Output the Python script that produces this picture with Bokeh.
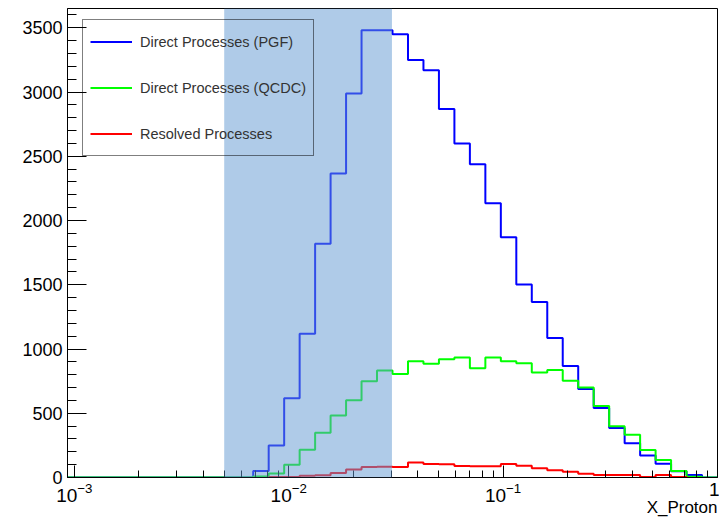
import numpy as np
from bokeh.plotting import figure
from bokeh.models import Range1d, SingleIntervalTicker, FixedTicker, Legend, LegendItem, BoxAnnotation
from bokeh.embed import file_html
from bokeh.resources import INLINE

# ---- data ----
log_xmin = -3.032          # lower end of the log-x axis (10**log_xmin)
n_bins = 42                # log-spaced histogram bins up to x = 1

pgf = [0, 0, 0, 0, 0, 0, 0, 0, 0, 0, 0, 0,
       50, 250, 617, 1119, 1820, 2365, 2988, 3481, 3481, 3450,
       3250, 3170, 2868, 2599, 2437, 2134, 1869, 1502, 1365, 1085,
       867, 688, 540, 386, 267, 171, 107, 48, 20, 0]
qcdc = [0, 0, 0, 0, 0, 0, 0, 0, 0, 0, 0, 0,
        8, 32, 100, 215, 348, 483, 602, 750, 833, 805,
        905, 885, 920, 934, 851, 934, 905, 890, 818, 836,
        752, 700, 556, 398, 333, 214, 136, 50, 5, 0]
resolved = [0, 0, 0, 0, 0, 0, 0, 0, 0, 0, 0, 0,
            0, 3, 4, 14, 17, 35, 62, 82, 83, 82,
            116, 105, 104, 90, 88, 88, 105, 92, 72, 56,
            44, 30, 20, 19, 20, 3, 19, 3, 0, 0]

series_names = ["Direct Processes (PGF)", "Direct Processes (QCDC)", "Resolved Processes"]
band = [0.005, 0.0303]
x_ticks = [0.001, 0.01, 0.1, 1]
x_title = "X_Proton"
y_max = 3650

edges = np.logspace(log_xmin, 0, n_bins + 1)

p = figure(width=719, height=519, x_axis_type="log",
           x_range=Range1d(10 ** log_xmin, 1), y_range=Range1d(0, y_max),
           output_backend="svg", toolbar_location=None,
           min_border_left=67, min_border_right=2, min_border_top=8, min_border_bottom=42)
p.background_fill_color = "white"
p.border_fill_color = "white"
p.outline_line_color = "black"
p.outline_line_width = 1
p.xgrid.visible = False
p.ygrid.visible = False


def hist(vals, color, full=True):
    vals = list(vals)
    if full:
        xs = list(edges)
        ys = vals + [vals[-1]]
    else:
        nz = [i for i, v in enumerate(vals) if v > 0]
        a, b = nz[0], nz[-1] + 1
        xs = list(edges[a:b + 1])
        ys = vals[a:b] + [0]
    return p.step(x=xs, y=ys, mode="after", line_color=color, line_width=2)


r1 = hist(pgf, "#0000ff")
r2 = hist(qcdc, "#00ff00")
r3 = hist(resolved, "#ff0000", full=False)

legend = Legend(items=[LegendItem(label=series_names[0], renderers=[r1]),
                       LegendItem(label=series_names[1], renderers=[r2]),
                       LegendItem(label=series_names[2], renderers=[r3])],
                location=(15, 321), margin=0, padding=7,
                glyph_width=42, glyph_height=29, label_height=29, spacing=17,
                label_standoff=8,
                label_text_font="Liberation Sans", label_text_font_size="14.5px",
                label_text_color="#333333",
                border_line_color="black", border_line_width=1.5,
                background_fill_alpha=0,
                level="underlay")
p.add_layout(legend)

# shaded x-range overlay, drawn above histograms and legend
p.add_layout(BoxAnnotation(left=band[0], right=band[1], bottom=0, top=y_max,
                           fill_color="#6299d2", fill_alpha=0.51, line_color=None,
                           level="overlay"))

# axes
ya = p.yaxis[0]
ya.ticker = SingleIntervalTicker(interval=500, num_minor_ticks=5)
ya.major_tick_in = 19
ya.major_tick_out = 0
ya.minor_tick_in = 9
ya.minor_tick_out = 0
ya.major_label_standoff = 5
ya.major_label_text_font = "Liberation Sans"
ya.major_label_text_font_size = "18px"
ya.major_label_text_color = "black"
ya.axis_line_color = "black"
ya.major_tick_line_color = "black"
ya.minor_tick_line_color = "black"

minor = [k * 10.0 ** e for e in (-4, -3, -2, -1) for k in range(2, 10)]
xa = p.xaxis[0]
xa.ticker = FixedTicker(ticks=x_ticks, minor_ticks=minor)
xa.major_tick_in = 12
xa.major_tick_out = 0
xa.minor_tick_in = 7
xa.minor_tick_out = 0
xa.major_label_standoff = 5
xa.major_label_text_font = "Liberation Sans"
xa.major_label_text_font_size = "19px"
xa.major_label_text_color = "black"
xa.major_label_overrides = {1: "1"}
xa.axis_line_color = "black"
xa.major_tick_line_color = "black"
xa.minor_tick_line_color = "black"
# the axis label is centred on the axis end; pad with no-break spaces so the
# visible word ends at the right edge of the frame
xa.axis_label = x_title + "\u00a0" * 15
xa.axis_label_align = "end"
xa.axis_label_standoff = -7
xa.axis_label_text_font = "Liberation Sans"
xa.axis_label_text_font_size = "17px"
xa.axis_label_text_font_style = "normal"
xa.axis_label_text_color = "black"

open("out.html", "w").write(file_html(p, INLINE))
